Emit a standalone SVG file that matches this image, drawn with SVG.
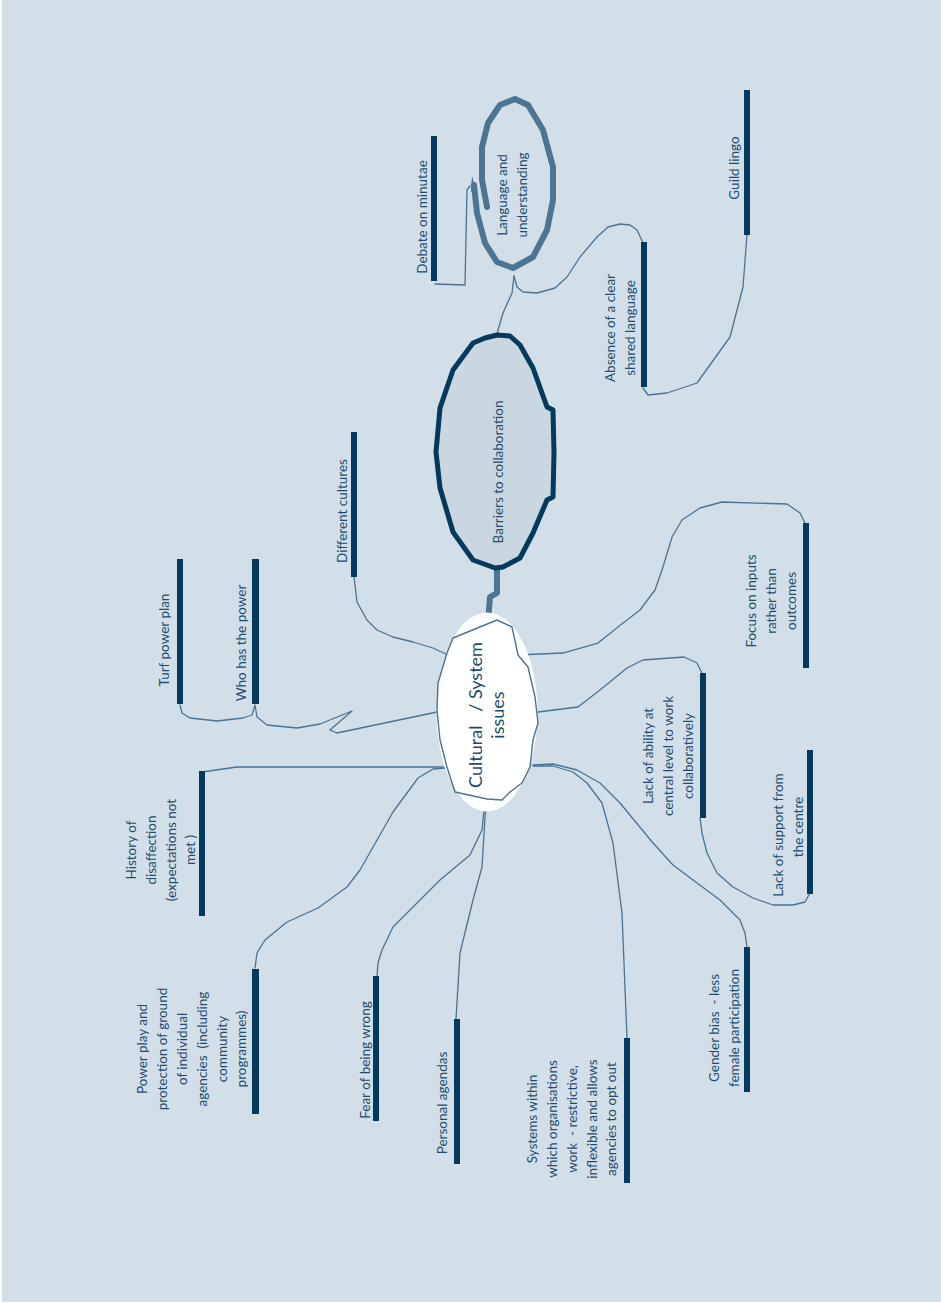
<svg xmlns="http://www.w3.org/2000/svg" width="941" height="1305" viewBox="0 0 941 1305">
<defs>
<style>
.bg{fill:#d2dfe8}
.bar{fill:#063a5c}
.ln{fill:none;stroke:#4a7394;stroke-width:1.3;stroke-linejoin:round;stroke-linecap:round}
.thick{fill:none;stroke:#4b7592;stroke-width:6;stroke-linejoin:round;stroke-linecap:round}
.lbl{font-family:Lato,"Open Sans",sans-serif;font-size:13.5px;fill:#1f4c6e;text-anchor:middle}
.big{font-family:Lato,"Open Sans",sans-serif;font-size:18px;fill:#1f4c6e;text-anchor:middle}
</style>
</defs>
<rect x="0" y="0" width="941" height="1305" fill="#ffffff"/>
<rect class="bg" x="2" y="0" width="939" height="1302"/>

<g id="connectors">
<polyline class="ln" points="435,284 465,285 467,190 470,186"/>
<polyline class="ln" points="747,235 743,287 730,337 697,383 667,393 648,395 643,388"/>
<polyline class="ln" points="643,243 637,230 630,225 620,224 608,227 597,237 580,257 567,277 555,288 537,293 523,292 517,287 514,276"/>
<polyline class="ln" points="514,276 512,293 503,313 498,330 497,336"/>
<polyline class="ln" points="354,577 357,602 367,620 377,630 393,637 413,642 433,648 448,655"/>
<polyline class="ln" points="180,705 182,713 190,718 217,721 243,718 252,715 255,705 257,717 267,725 297,728 320,724 352,711 330,730 337,733 437,712"/>
<polyline class="ln" points="202,772 237,767 443,767"/>
<polyline class="ln" points="255,968 257,953 265,940 287,922 318,908 347,887 360,870 393,812 418,778 433,769 445,768"/>
<polyline class="ln" points="377,976 378,963 382,950 393,927 413,907 440,880 470,855 482,830 485,800"/>
<polyline class="ln" points="456,1019 460,953 473,900 482,867 485,817 487,798"/>
<polyline class="ln" points="627,1038 622,913 613,843 602,803 587,783 573,772 553,766 533,766"/>
<polyline class="ln" points="747,947 745,933 740,920 720,900 693,880 673,865 653,843 620,803 600,783 577,770 553,764 533,765"/>
<polyline class="ln" points="810,893 805,902 793,905 773,905 753,898 733,887 717,873 707,853 702,833 700,818"/>
<polyline class="ln" points="702,673 697,663 684,657 643,660 627,668 600,690 578,707 538,712"/>
<polyline class="ln" points="805,523 800,513 787,504 722,502 700,508 682,520 672,537 663,567 655,590 640,610 618,627 598,643 563,653 517,655"/>
<polyline class="thick" points="497,568 497,593 490,597 488,622"/>
</g>

<g id="node-language">
<path class="thick" d="M487,207 L482,180 L482,147 L488,123 L500,105 L515,99 L528,105 L543,130 L553,167 L553,200 L547,230 L533,257 L513,268 L497,262 L485,243 L477,213 L474,185"/>
<path d="M476,190 L472,176 L471,192 Z" fill="#4b7592"/>
<text class="lbl" transform="translate(507,195) rotate(-90)"><tspan x="0" dy="0">Language and</tspan><tspan x="0" dy="20">understanding</tspan></text>
</g>

<g id="node-barriers">
<polygon points="497,335 510,336 520,345 533,368 547,407 553,410 554,453 553,497 547,500 533,533 520,558 503,567 495,568 473,560 453,532 440,488 436,452 440,408 453,370 473,343 485,338" fill="#cad7e1" stroke="#063a5c" stroke-width="5" stroke-linejoin="round"/>
<text class="lbl" transform="translate(503,472) rotate(-90)">Barriers to collaboration</text>
</g>

<g id="node-center">
<ellipse cx="487" cy="712" rx="50.5" ry="99.5" fill="#ffffff"/>
<polygon points="453,638 497,620 512,627 518,655 528,667 535,697 538,723 533,740 530,767 522,783 510,792 502,800 487,799 455,792 447,767 440,740 437,710 438,683 447,653" fill="none" stroke="#4a7394" stroke-width="1.4" stroke-linejoin="round"/>
<text class="big" transform="translate(482,715) rotate(-90)"><tspan x="0" dy="0" xml:space="preserve">Cultural   / System</tspan><tspan x="0" dy="22">issues</tspan></text>
</g>

<g id="node-debate">
<rect class="bar" x="431" y="136" width="6" height="145"/>
<text class="lbl" transform="translate(427,217) rotate(-90)">Debate on minutae</text>
</g>

<g id="node-guild">
<rect class="bar" x="744" y="90" width="6" height="145"/>
<text class="lbl" transform="translate(739,168) rotate(-90)">Guild lingo</text>
</g>

<g id="node-absence">
<rect class="bar" x="641" y="242" width="6" height="145"/>
<text class="lbl" transform="translate(615,328) rotate(-90)"><tspan x="0" dy="0">Absence of a clear</tspan><tspan x="0" dy="20">shared language</tspan></text>
</g>

<g id="node-different">
<rect class="bar" x="351" y="432" width="6" height="145"/>
<text class="lbl" transform="translate(347,511) rotate(-90)">Different cultures</text>
</g>

<g id="node-turf">
<rect class="bar" x="177" y="559" width="6" height="145"/>
<text class="lbl" transform="translate(169,640) rotate(-90)">Turf power plan</text>
</g>

<g id="node-who">
<rect class="bar" x="252" y="559" width="7" height="145"/>
<text class="lbl" transform="translate(246,643) rotate(-90)">Who has the power</text>
</g>

<g id="node-history">
<rect class="bar" x="199" y="771" width="6" height="145"/>
<text class="lbl" transform="translate(136,850) rotate(-90)"><tspan x="0" dy="0">History of</tspan><tspan x="0" dy="20">disaffection</tspan><tspan x="0" dy="20">(expectations not</tspan><tspan x="0" dy="19">met )</tspan></text>
</g>

<g id="node-powerplay">
<rect class="bar" x="252" y="969" width="7" height="145"/>
<text class="lbl" transform="translate(147,1049) rotate(-90)"><tspan x="0" dy="0">Power play and</tspan><tspan x="0" dy="20">protection of ground</tspan><tspan x="0" dy="20">of individual</tspan><tspan x="0" dy="20" xml:space="preserve">agencies  (including</tspan><tspan x="0" dy="20">community</tspan><tspan x="0" dy="19">programmes)</tspan></text>
</g>

<g id="node-fear">
<rect class="bar" x="373" y="976" width="6" height="145"/>
<text class="lbl" transform="translate(370,1060) rotate(-90)">Fear of being wrong</text>
</g>

<g id="node-personal">
<rect class="bar" x="454" y="1019" width="6" height="145"/>
<text class="lbl" transform="translate(447,1103) rotate(-90)">Personal agendas</text>
</g>

<g id="node-systems">
<rect class="bar" x="624" y="1038" width="6" height="145"/>
<text class="lbl" transform="translate(537,1119) rotate(-90)"><tspan x="0" dy="0">Systems within</tspan><tspan x="0" dy="20">which organisations</tspan><tspan x="0" dy="20" xml:space="preserve">work  - restrictive,</tspan><tspan x="0" dy="20">inflexible and allows</tspan><tspan x="0" dy="19">agencies to opt out</tspan></text>
</g>

<g id="node-gender">
<rect class="bar" x="744" y="947" width="6" height="145"/>
<text class="lbl" transform="translate(719,1028) rotate(-90)"><tspan x="0" dy="0" xml:space="preserve">Gender bias  - less</tspan><tspan x="0" dy="20">female participation</tspan></text>
</g>

<g id="node-support">
<rect class="bar" x="807" y="750" width="6" height="144"/>
<text class="lbl" transform="translate(783,835) rotate(-90)">Lack of support from</text>
<text class="lbl" transform="translate(803,827) rotate(-90)">the centre</text>
</g>

<g id="node-ability">
<rect class="bar" x="700" y="673" width="6" height="145"/>
<text class="lbl" transform="translate(653,756) rotate(-90)"><tspan x="0" dy="0">Lack of ability at</tspan><tspan x="0" dy="20">central level to work</tspan><tspan x="0" dy="20">collaboratively</tspan></text>
</g>

<g id="node-focus">
<rect class="bar" x="803" y="523" width="6" height="145"/>
<text class="lbl" transform="translate(756,601) rotate(-90)"><tspan x="0" dy="0">Focus on inputs</tspan><tspan x="0" dy="20">rather than</tspan><tspan x="0" dy="20">outcomes</tspan></text>
</g>
</svg>
